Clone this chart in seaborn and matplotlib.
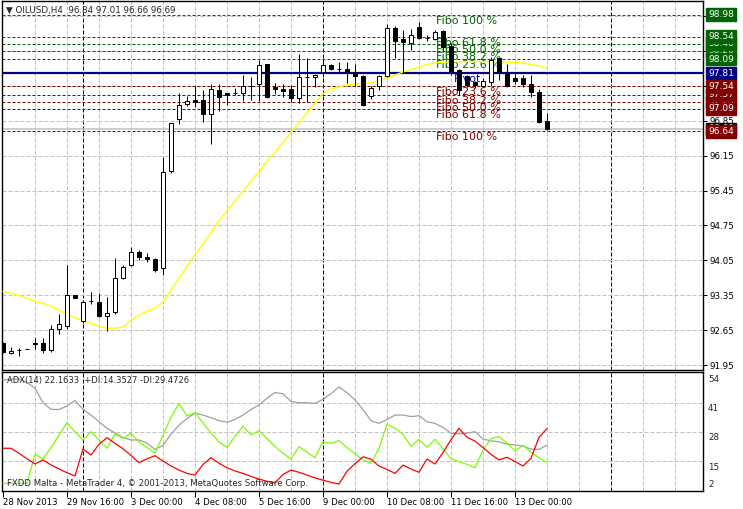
import numpy as np
import pandas as pd
import matplotlib
matplotlib.use("Agg")
import matplotlib.pyplot as plt
import matplotlib.transforms as mtransforms
import seaborn as sns

# OILUSD H4 candles
bar_open = [92.40, 92.20, 92.25, 92.27, 92.38, 92.40, 92.25, 92.68, 92.73, 93.36,
            92.83, 93.23, 93.22, 92.93, 93.01, 93.70, 93.95, 94.21, 94.12, 94.08,
            93.90, 95.84, 96.88, 97.18, 97.27, 97.27, 96.98, 97.46, 97.40, 97.40,
            97.40, 97.55, 97.59, 97.99, 97.53, 97.49, 97.49, 97.30, 97.73, 97.72,
            97.84, 97.98, 97.90, 97.90, 97.83, 97.75, 97.35, 97.55, 97.75, 98.71,
            98.49, 98.41, 98.74, 98.52, 98.49, 98.66, 98.35, 97.87, 97.75, 97.62,
            97.54, 97.62, 98.12, 97.82, 97.71, 97.70, 97.58, 97.43, 96.84]
bar_high = [92.42, 92.31, 92.30, 92.27, 92.49, 92.49, 92.75, 92.97, 93.96, 93.36,
            93.26, 93.41, 93.40, 93.32, 94.09, 93.96, 94.31, 94.26, 94.19, 94.10,
            96.12, 96.81, 97.41, 97.35, 97.55, 97.46, 97.59, 97.59, 97.41, 97.51,
            97.78, 97.73, 98.08, 98.00, 97.61, 97.58, 97.57, 98.19, 98.12, 97.80,
            98.10, 98.00, 98.04, 98.04, 97.99, 97.78, 97.55, 97.78, 98.80, 98.76,
            98.67, 98.70, 98.83, 98.58, 98.68, 98.68, 98.41, 97.90, 97.77, 97.65,
            97.70, 98.14, 98.13, 98.00, 97.80, 97.77, 97.77, 97.48, 97.01]
bar_low = [92.19, 92.17, 92.13, 92.27, 92.28, 92.20, 92.21, 92.57, 92.67, 93.29,
           92.80, 93.18, 92.92, 92.63, 92.98, 93.68, 93.93, 94.05, 94.01, 93.81,
           93.76, 95.80, 96.78, 97.15, 97.12, 96.82, 96.39, 97.05, 97.16, 97.37,
           97.25, 97.26, 97.24, 97.31, 97.39, 97.33, 97.23, 97.20, 97.22, 97.53,
           97.73, 97.87, 97.82, 97.61, 97.55, 97.15, 97.28, 97.46, 97.72, 98.12,
           97.81, 98.28, 98.50, 98.46, 98.48, 98.28, 97.77, 97.37, 97.52, 97.50,
           97.52, 97.55, 97.67, 97.53, 97.58, 97.53, 97.33, 96.80, 96.66]
bar_close = [92.21, 92.24, 92.26, 92.27, 92.39, 92.25, 92.68, 92.78, 93.35, 93.29,
             93.22, 93.23, 92.93, 93.00, 93.70, 93.92, 94.21, 94.11, 94.08, 93.85,
             95.83, 96.80, 97.17, 97.25, 97.23, 96.98, 97.48, 97.33, 97.37, 97.40,
             97.55, 97.55, 97.98, 97.33, 97.48, 97.45, 97.30, 97.73, 97.73, 97.78,
             97.98, 97.90, 97.90, 97.81, 97.75, 97.17, 97.51, 97.75, 98.71, 98.46,
             98.43, 98.58, 98.51, 98.52, 98.63, 98.34, 97.86, 97.47, 97.57, 97.56,
             97.64, 98.07, 97.82, 97.54, 97.65, 97.58, 97.43, 96.83, 96.69]

# yellow moving average
ma_values = [93.43, 93.39, 93.34, 93.29, 93.23, 93.19, 93.13, 93.05, 92.97, 92.90,
             92.84, 92.79, 92.73, 92.69, 92.69, 92.71, 92.85, 92.95, 93.03, 93.09,
             93.22, 93.45, 93.69, 93.93, 94.16, 94.38, 94.61, 94.85, 95.05, 95.24,
             95.44, 95.64, 95.83, 96.03, 96.22, 96.42, 96.62, 96.81, 97.01, 97.21,
             97.40, 97.49, 97.53, 97.57, 97.59, 97.60, 97.62, 97.65, 97.71, 97.77,
             97.83, 97.88, 97.93, 97.98, 98.01, 98.02, 98.03, 98.04, 98.04, 98.04,
             98.04, 98.04, 98.04, 98.03, 98.02, 98.01, 97.98, 97.95, 97.91]

# ADX(14) window
adx_main = [51.1, 51.5, 51.5, 50.0, 47.5, 41.0, 38.0, 38.0, 39.5, 42.0,
            38.0, 35.5, 32.5, 29.6, 27.5, 25.5, 24.4, 24.4, 23.0, 20.2,
            22.0, 27.0, 31.0, 34.0, 36.3, 35.5, 34.3, 33.0, 32.3, 33.5,
            35.5, 38.0, 40.0, 43.0, 45.5, 45.0, 41.5, 41.0, 41.0, 40.7,
            42.5, 45.0, 48.0, 45.5, 42.2, 38.0, 33.0, 31.8, 33.5, 35.5,
            35.5, 34.8, 35.2, 32.5, 31.8, 30.0, 27.4, 27.1, 27.4, 28.1,
            24.8, 24.0, 23.6, 22.5, 22.2, 21.7, 20.3, 20.2, 22.16]
plus_di = [5.1, 5.1, 5.1, 5.1, 18.0, 15.9, 21.0, 26.5, 32.1, 28.0,
           24.4, 28.1, 24.5, 20.7, 27.1, 25.1, 27.4, 23.5, 21.0, 18.5,
           26.5, 34.5, 40.7, 35.1, 36.5, 32.0, 27.5, 23.5, 21.1, 26.0,
           30.6, 26.6, 28.5, 25.0, 21.5, 18.5, 15.9, 21.4, 19.0, 16.5,
           23.6, 22.9, 24.1, 21.0, 18.2, 15.5, 14.0, 20.7, 31.4, 29.6,
           27.0, 21.5, 24.7, 21.1, 24.7, 20.5, 16.0, 14.8, 13.5, 12.0,
           19.9, 25.0, 25.9, 23.0, 19.6, 21.9, 19.0, 16.5, 14.35]
minus_di = [20.7, 20.7, 18.5, 16.0, 13.7, 15.5, 13.3, 11.5, 9.8, 8.4,
            20.4, 17.7, 22.5, 25.4, 22.9, 20.5, 17.5, 14.3, 16.0, 17.4,
            15.0, 12.8, 11.0, 9.5, 8.8, 13.5, 16.5, 14.0, 12.0, 10.6,
            9.5, 8.2, 7.0, 6.0, 5.3, 9.0, 11.0, 10.0, 8.8, 7.5,
            6.5, 5.5, 4.8, 10.5, 13.8, 16.9, 15.8, 12.8, 11.3, 9.5,
            13.2, 11.5, 10.0, 15.9, 13.7, 18.8, 24.5, 29.6, 25.6, 23.9,
            21.0, 18.0, 15.5, 16.7, 14.8, 12.8, 16.2, 25.6, 29.47]

# fibonacci / pivot levels
fibo_up_levels = [98.98, 98.54, 98.40, 98.26, 98.09]
fibo_up_names = ["Fibo 100 %", "Fibo 61.8 %", "Fibo 50.0 %", "Fibo 38.2 %", "Fibo 23.6 %"]
fibo_dn_levels = [97.54, 97.37, 97.23, 97.09, 96.64]
fibo_dn_names = ["Fibo 23.6 %", "Fibo 38.2 %", "Fibo 50.0 %", "Fibo 61.8 %", "Fibo 100 %"]
pivot_level = 97.81
bid_level = 96.69

price_ticks = [91.95, 92.65, 93.35, 94.05, 94.75, 95.45, 96.15, 96.85, 97.55, 98.25, 98.95]
adx_ticks = [54, 41, 28, 15, 2]
time_tick_bars = [0, 8, 16, 24, 32, 40, 48, 56, 64]
time_tick_labels = ["28 Nov 2013", "29 Nov 16:00", "3 Dec 00:00", "4 Dec 08:00",
                    "5 Dec 16:00", "9 Dec 00:00", "10 Dec 08:00", "11 Dec 16:00",
                    "13 Dec 00:00"]
week_separators = [10, 40, 76]

GREEN = "#006400"
MAROON = "#800000"
NAVY = "#000080"
GRID = "#c0c0c0"
PX = 0.72  # one pixel in points at dpi 100

sns.set_style("white")
plt.rcParams['font.family'] = ['DejaVu Sans']

df = pd.DataFrame({
    'bar': np.arange(len(bar_open)),
    'open': bar_open, 'high': bar_high, 'low': bar_low, 'close': bar_close,
    'ma': ma_values, 'adx': adx_main, 'pdi': plus_di, 'mdi': minus_di,
})

W, H = 743, 509
fig = plt.figure(figsize=(W / 100, H / 100), dpi=100)
ax = fig.add_axes([2 / W, 1 - 370 / H, 701 / W, 369 / H])
ax2 = fig.add_axes([2 / W, 1 - 491 / H, 701 / W, 119 / H])

xlim = (-0.125, 87.5)
for a in (ax, ax2):
    a.set_xlim(*xlim)
    for s in a.spines.values():
        s.set_color("black")
        s.set_linewidth(1.0)
    # vertical grid + weekly separators
    for g in range(4, 88, 4):
        if g in week_separators:
            continue
        a.axvline(g, color=GRID, lw=PX, ls=(0, (4, 2)), zorder=1)
    for g in week_separators:
        a.axvline(g, color="black", lw=PX, ls=(0, (4, 2)), zorder=1)

# ---- main price panel
ax.set_ylim(91.85, 99.255)
for p in price_ticks:
    ax.axhline(p, color=GRID, lw=PX, ls=(0, (4, 2)), zorder=1)

for lvl in fibo_up_levels:
    ax.axhline(lvl, color=GREEN, lw=PX, ls=(0, (3, 2)), zorder=2)
for lvl in fibo_dn_levels:
    ax.axhline(lvl, color=MAROON, lw=PX, ls=(0, (3, 2)), zorder=2)
ax.axhline(bid_level, color=GRID, lw=1.1, zorder=2)
ax.axhline(pivot_level, color=NAVY, lw=1.6, zorder=2)

txt_off = mtransforms.offset_copy(ax.transData, fig=fig, x=0, y=-1, units='dots')
for lvl, name in zip(fibo_up_levels, fibo_up_names):
    ax.text(54.1, lvl, name, color=GREEN, fontsize=8, va='top', ha='left',
            transform=txt_off, zorder=3)
for lvl, name in zip(fibo_dn_levels, fibo_dn_names):
    ax.text(54.1, lvl, name, color=MAROON, fontsize=8, va='top', ha='left',
            transform=txt_off, zorder=3)
ax.text(56.4, pivot_level, "Pivot", color="#0000cd", fontsize=8, va='top', ha='left',
        transform=txt_off, zorder=3)

sns.lineplot(data=df, x='bar', y='ma', ax=ax, color="#ffff00", lw=1.0, zorder=3.5)

# candles
bull = df['close'] >= df['open']
ax.vlines(df['bar'], df['low'], df['high'], color="black", lw=PX, zorder=4)
body_lo = np.minimum(df['open'], df['close'])
body_h = (df['close'] - df['open']).abs()
ax.bar(df['bar'], body_h, bottom=body_lo, width=0.5,
       color=np.where(bull, "white", "black"), edgecolor="black",
       linewidth=PX, zorder=5)

ax.set_xlabel("")
ax.set_ylabel("")
ax.set_xticks([])
ax.yaxis.tick_right()
ax.set_yticks(price_ticks)
ax.set_yticklabels([f"{p:.2f}" if p < 97.2 else "" for p in price_ticks])
ax.tick_params(axis='y', right=True, left=False, length=3, width=PX, pad=2,
               labelsize=6.3, colors="black")

# right-side level boxes
box_tr = mtransforms.offset_copy(
    mtransforms.blended_transform_factory(ax.transAxes, ax.transData),
    fig=fig, x=5, y=0, units='dots')


def level_box(level, color, z):
    ax.text(1.0, level, f"{level:.2f}", transform=box_tr, color="white",
            fontsize=6.5, va='center', ha='left', clip_on=False, zorder=z,
            bbox=dict(boxstyle="square,pad=0.2", fc=color, ec=color))


level_box(bid_level, "black", 6)
level_box(fibo_dn_levels[4], MAROON, 7)
level_box(fibo_up_levels[0], GREEN, 7)
for lvl in (fibo_up_levels[3], fibo_up_levels[2], fibo_up_levels[1], fibo_up_levels[4]):
    level_box(lvl, GREEN, 7)
level_box(pivot_level, NAVY, 7)
for lvl in (fibo_dn_levels[2], fibo_dn_levels[1], fibo_dn_levels[0], fibo_dn_levels[3]):
    level_box(lvl, MAROON, 7)

fig.text(6 / W, 1 - 10 / H, "\u25bc OILUSD,H4  96.84 97.01 96.66 96.69",
         fontsize=6.3, va='center', ha='left')

# ---- ADX panel
ax2.set_ylim(1.67, 54.67)
for v in (41, 28, 15):
    ax2.axhline(v, color=GRID, lw=PX, ls=(0, (4, 2)), zorder=1)
sns.lineplot(data=df, x='bar', y='adx', ax=ax2, color="#a0a0a0", lw=0.9, zorder=3)
sns.lineplot(data=df, x='bar', y='pdi', ax=ax2, color="#7cfc00", lw=0.9, zorder=3)
sns.lineplot(data=df, x='bar', y='mdi', ax=ax2, color="#ff0000", lw=0.9, zorder=3)
ax2.set_xlabel("")
ax2.set_ylabel("")
ax2.set_yticks([])

adx_tr = mtransforms.blended_transform_factory(ax2.transAxes, ax2.transData)
for v in adx_ticks:
    dy = -6 if v != 2 else 6
    tr = mtransforms.offset_copy(adx_tr, fig=fig, x=5, y=dy, units='dots')
    ax2.text(1.0, v, str(v), transform=tr, fontsize=6.3, va='center', ha='left',
             clip_on=False)

ax2.text(5 / 701, 1 - 9 / 119, "ADX(14) 22.1633  +DI:14.3527 -DI:29.4726",
         transform=ax2.transAxes, fontsize=6.0, va='center', ha='left')
ax2.text(5 / 701, 1 - 112 / 119,
         "FXDD Malta - MetaTrader 4, \u00a9 2001-2013, MetaQuotes Software Corp.",
         transform=ax2.transAxes, fontsize=6.1, va='center', ha='left')

ax2.set_xticks(time_tick_bars)
ax2.set_xticklabels(time_tick_labels)
ax2.tick_params(axis='x', bottom=True, length=4, width=PX, pad=1,
                labelsize=6.1, colors="black")
for lbl in ax2.get_xticklabels():
    lbl.set_horizontalalignment('left')

fig.savefig("out.png", dpi=100, facecolor="white")
